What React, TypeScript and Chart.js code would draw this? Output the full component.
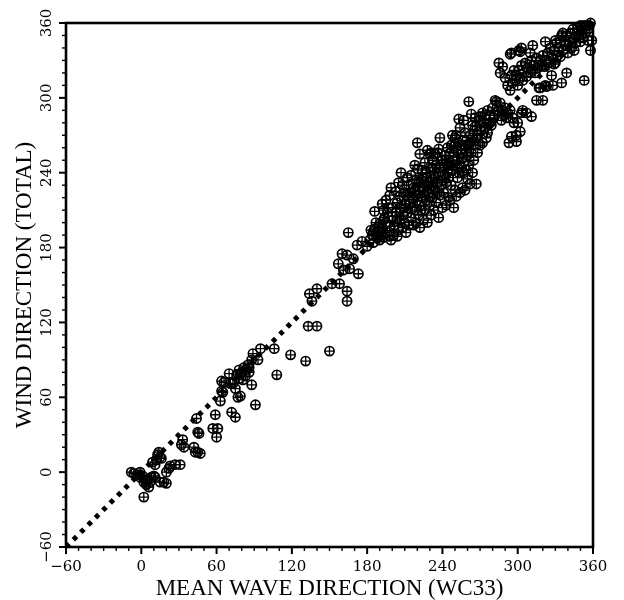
import { useEffect, useRef } from 'react';
import { Chart, registerables } from 'chart.js';

Chart.register(...registerables);

const axisMin = -60;
const axisMax = 360;
const majorTicks = [-60, 0, 60, 120, 180, 240, 300, 360];
const diagonal = [-60, 360];

const lowCluster: [number, number][] = [
  [-8, 0], [-6, -1], [-3, -2], [-1, 0], [-1, -4], [1, -3], [2, -8], [2, -20], [3, -6], [4, -10],
  [5, -6], [6, -12], [7, -8], [8, -4], [9, 8], [10, -3], [11, 6], [11, -4], [12, 10], [13, 14],
  [15, 12], [16, 11], [14, 16], [15, -8], [18, -8], [20, -9], [20, 0], [22, 3], [23, 5], [27, 6],
  [31, 6], [32, 22], [33, 26], [34, 20], [42, 20], [43, 16], [45, 16], [44, 43], [45, 32], [47, 15],
  [46, 31],
];

const midScatter: [number, number][] = [
  [57, 35], [61, 35], [60, 28], [59, 46], [63, 57], [64, 65], [65, 64], [66, 72], [64, 73], [70, 79],
  [71, 71], [72, 48], [73, 71], [75, 44], [75, 67], [76, 78], [77, 60], [78, 82], [78, 75], [79, 79],
  [79, 61], [80, 80], [81, 74], [82, 84], [83, 77], [84, 82], [85, 86], [86, 80], [86, 84], [88, 70],
  [88, 90], [89, 95], [91, 54], [93, 90], [95, 99], [106, 99], [108, 78], [119, 94], [131, 89], [133, 117],
  [134, 143], [136, 137], [140, 147], [140, 117], [150, 97], [152, 151], [158, 151], [164, 145], [164, 137], [157, 167],
  [161, 162], [166, 163], [173, 159], [160, 175], [164, 174], [169, 171], [172, 182], [176, 185], [180, 181], [165, 192],
];

const denseBand: [number, number][] = [
  [185, 193], [189, 197], [193, 202], [196, 208], [186, 209], [193, 210], [198, 222], [198, 189], [204, 189],
  [182, 186], [184, 190], [185, 184], [186, 195], [187, 200], [188, 188], [189, 192], [190, 186], [190, 199], [183, 194],
  [191, 190], [192, 196], [193, 188], [194, 204], [195, 200], [196, 192], [197, 212], [198, 197], [199, 186], [200, 205],
  [192, 215], [195, 218], [199, 228], [200, 212],
  [201, 190], [202, 198], [203, 208], [204, 216], [205, 194], [206, 202], [206, 221], [207, 211], [208, 196], [208, 230],
  [209, 206], [210, 215], [210, 200], [207, 240], [203, 225], [205, 232],
  [211, 192], [211, 222], [212, 208], [213, 198], [213, 230], [214, 215], [215, 204], [215, 238], [216, 220], [217, 198],
  [217, 228], [218, 210], [219, 234], [219, 200], [220, 218], [220, 243], [218, 246], [212, 236],
  [221, 206], [221, 226], [222, 196], [222, 214], [223, 234], [224, 220], [224, 242], [225, 202], [225, 228], [226, 210],
  [226, 248], [227, 218], [228, 236], [228, 200], [229, 224], [230, 214], [230, 244], [220, 264], [222, 255], [228, 258],
  [231, 206], [231, 230], [232, 220], [232, 250], [233, 210], [233, 238], [234, 226], [235, 216], [235, 246], [236, 232],
  [236, 256], [237, 204], [237, 240], [238, 222], [238, 268], [239, 250], [240, 212], [240, 234], [231, 256], [234, 255],
  [237, 259], [230, 255],
  [241, 244], [241, 224], [242, 254], [243, 214], [243, 232], [244, 260], [244, 240], [245, 220], [246, 248], [246, 218],
  [247, 230], [247, 262], [248, 242], [249, 256], [249, 212], [250, 226], [250, 268], [248, 270], [251, 270], [251, 221],
  [249, 261],
  [252, 236], [252, 250], [253, 264], [253, 283], [254, 276], [254, 224], [255, 244], [255, 258], [256, 228], [256, 266],
  [257, 240], [257, 249], [258, 226], [258, 272], [259, 242], [259, 256], [260, 235], [260, 262], [261, 297], [257, 282],
  [261, 246], [262, 270], [262, 231], [263, 256], [264, 240], [264, 278], [265, 262], [265, 250], [266, 277], [266, 284],
  [267, 231], [267, 268], [268, 256], [268, 270], [269, 282], [270, 285], [270, 262], [263, 287],
  [204, 203], [206, 212], [209, 224], [211, 214], [214, 224], [216, 212], [218, 226], [221, 232], [223, 210], [224, 236],
  [226, 222], [227, 240], [229, 232], [230, 220], [232, 244], [233, 228], [234, 236], [236, 224], [238, 244], [239, 230],
  [240, 250], [242, 238], [243, 248], [245, 236], [246, 256], [248, 250], [250, 246], [251, 258], [253, 240], [254, 262],
  [256, 252], [258, 262], [260, 254], [262, 264], [264, 268], [219, 222], [222, 228], [227, 230], [244, 246], [252, 244],
];

const upperCluster: [number, number][] = [
  [271, 274], [272, 288], [273, 280], [274, 286], [275, 268], [276, 290], [277, 279], [278, 286], [279, 278], [280, 292],
  [281, 284], [282, 298], [283, 297], [284, 289], [285, 290], [286, 296], [287, 282], [288, 290], [289, 286], [290, 292],
  [291, 284], [292, 288], [293, 264], [294, 290], [295, 269], [296, 284], [297, 280], [299, 270], [299, 265], [300, 280],
  [302, 273], [303, 288], [304, 290], [307, 288], [311, 285], [272, 264], [274, 276], [276, 272], [278, 280],
];

const upperBand: [number, number][] = [
  [285, 328], [288, 325], [286, 320], [290, 316], [292, 310], [294, 306], [295, 318], [296, 312], [297, 322], [298, 314],
  [299, 318], [300, 310], [301, 322], [302, 316], [303, 326], [304, 314], [305, 320], [306, 328], [307, 317], [308, 324],
  [310, 320], [311, 330], [312, 322], [313, 326], [314, 320], [315, 332], [316, 324], [317, 308], [318, 330], [319, 326],
  [320, 334], [321, 325], [322, 310], [323, 330], [324, 336], [325, 328], [326, 340], [327, 318], [328, 332], [329, 338],
  [330, 328], [331, 344], [332, 334], [333, 340], [334, 333], [335, 312], [335, 350], [336, 338], [337, 346], [338, 342],
  [339, 320], [339, 350], [340, 336], [341, 345], [342, 352], [343, 340], [344, 355], [345, 348], [346, 344], [347, 352],
  [348, 356], [349, 350], [350, 358], [351, 354], [352, 348], [353, 314], [353, 358], [354, 352], [355, 358], [356, 355],
  [357, 358], [358, 338], [359, 346], [358, 360], [356, 346], [350, 345], [345, 338], [295, 336], [302, 337], [303, 340],
  [310, 336], [312, 342], [301, 338], [294, 335], [320, 298], [315, 298], [322, 345], [330, 346], [336, 352], [329, 327],
  [323, 309], [318, 308], [328, 310],
];

const allPoints = [...lowCluster, ...midScatter, ...denseBand, ...upperCluster, ...upperBand].map(([x, y]) => ({ x, y }));

const fmt = (v: number) => (v < 0 ? '\u2212' + Math.abs(v) : String(v));

const frameTicks = {
  id: 'frameTicks',
  afterDraw(chart: any) {
    const { ctx, chartArea, scales } = chart;
    const { left, right, top, bottom } = chartArea;
    ctx.save();
    ctx.strokeStyle = '#000';
    for (const t of scales.x.ticks) {
      const px = scales.x.getPixelForValue(t.value);
      const major = majorTicks.includes(t.value);
      ctx.lineWidth = major ? 2 : 1.4;
      ctx.beginPath();
      ctx.moveTo(px, bottom);
      ctx.lineTo(px, bottom + (major ? 7 : 4));
      ctx.stroke();
    }
    for (const t of scales.y.ticks) {
      const py = scales.y.getPixelForValue(t.value);
      const major = majorTicks.includes(t.value);
      ctx.lineWidth = major ? 2 : 1.4;
      ctx.beginPath();
      ctx.moveTo(left, py);
      ctx.lineTo(left - (major ? 7 : 4), py);
      ctx.stroke();
    }
    ctx.lineWidth = 2.6;
    ctx.strokeRect(left, top, right - left, bottom - top);
    ctx.restore();
  },
};

export default function App() {
  const ref = useRef<HTMLCanvasElement | null>(null);
  useEffect(() => {
    if (!ref.current) return;
    const tickFont = { family: 'DejaVu Serif', size: 15 };
    const titleFont = { family: 'Liberation Serif', size: 23, lineHeight: 1 };
    const chart = new Chart(ref.current, {
      type: 'scatter',
      data: {
        datasets: [
          {
            type: 'line',
            data: diagonal.map((v) => ({ x: v, y: v })),
            borderColor: '#000',
            borderWidth: 5,
            borderDash: [4.5, 5.9],
            borderCapStyle: 'butt',
            pointRadius: 0,
            fill: false,
            order: 3,
          } as any,
          {
            data: allPoints,
            pointStyle: 'circle',
            pointRadius: 4.6,
            borderColor: '#000',
            borderWidth: 1.7,
            backgroundColor: 'rgba(0,0,0,0)',
            order: 2,
            clip: false,
          } as any,
          {
            data: allPoints,
            pointStyle: 'cross',
            pointRadius: 4.6,
            borderColor: '#000',
            borderWidth: 1.3,
            order: 1,
            clip: false,
          } as any,
        ],
      },
      options: {
        responsive: false,
        animation: false,
        events: [],
        layout: { padding: { top: 23, right: 31, left: 0, bottom: 0 } },
        plugins: { legend: { display: false }, tooltip: { enabled: false } },
        scales: {
          x: {
            type: 'linear',
            min: axisMin,
            max: axisMax,
            border: { display: false },
            grid: { display: false, drawTicks: false },
            ticks: {
              stepSize: 10,
              autoSkip: false,
              maxRotation: 0,
              padding: 11,
              color: '#000',
              font: tickFont,
              callback: (v: any) => (majorTicks.includes(v) ? fmt(v) : ''),
            },
            title: {
              display: true,
              text: 'MEAN WAVE DIRECTION (WC33)',
              color: '#000',
              font: titleFont,
              padding: { top: 0, bottom: 0 },
            },
            afterFit: (s: any) => {
              s.height = 53;
            },
          },
          y: {
            type: 'linear',
            min: axisMin,
            max: axisMax,
            border: { display: false },
            grid: { display: false, drawTicks: false },
            ticks: {
              stepSize: 10,
              autoSkip: false,
              minRotation: 90,
              maxRotation: 90,
              crossAlign: 'center',
              padding: 3,
              color: '#000',
              font: tickFont,
              callback: (v: any) => (majorTicks.includes(v) ? fmt(v) : ''),
            },
            title: {
              display: true,
              text: 'WIND DIRECTION (TOTAL)',
              color: '#000',
              font: titleFont,
              padding: { top: 13, bottom: 0 },
            },
            afterFit: (s: any) => {
              s.width = 66;
            },
          },
        },
      },
      plugins: [frameTicks],
    } as any);
    return () => chart.destroy();
  }, []);
  return (
    <div style={{ position: 'absolute', left: 0, top: 0, width: 624, height: 600, background: '#fff' }}>
      <canvas ref={ref} width={624} height={600} />
    </div>
  );
}
